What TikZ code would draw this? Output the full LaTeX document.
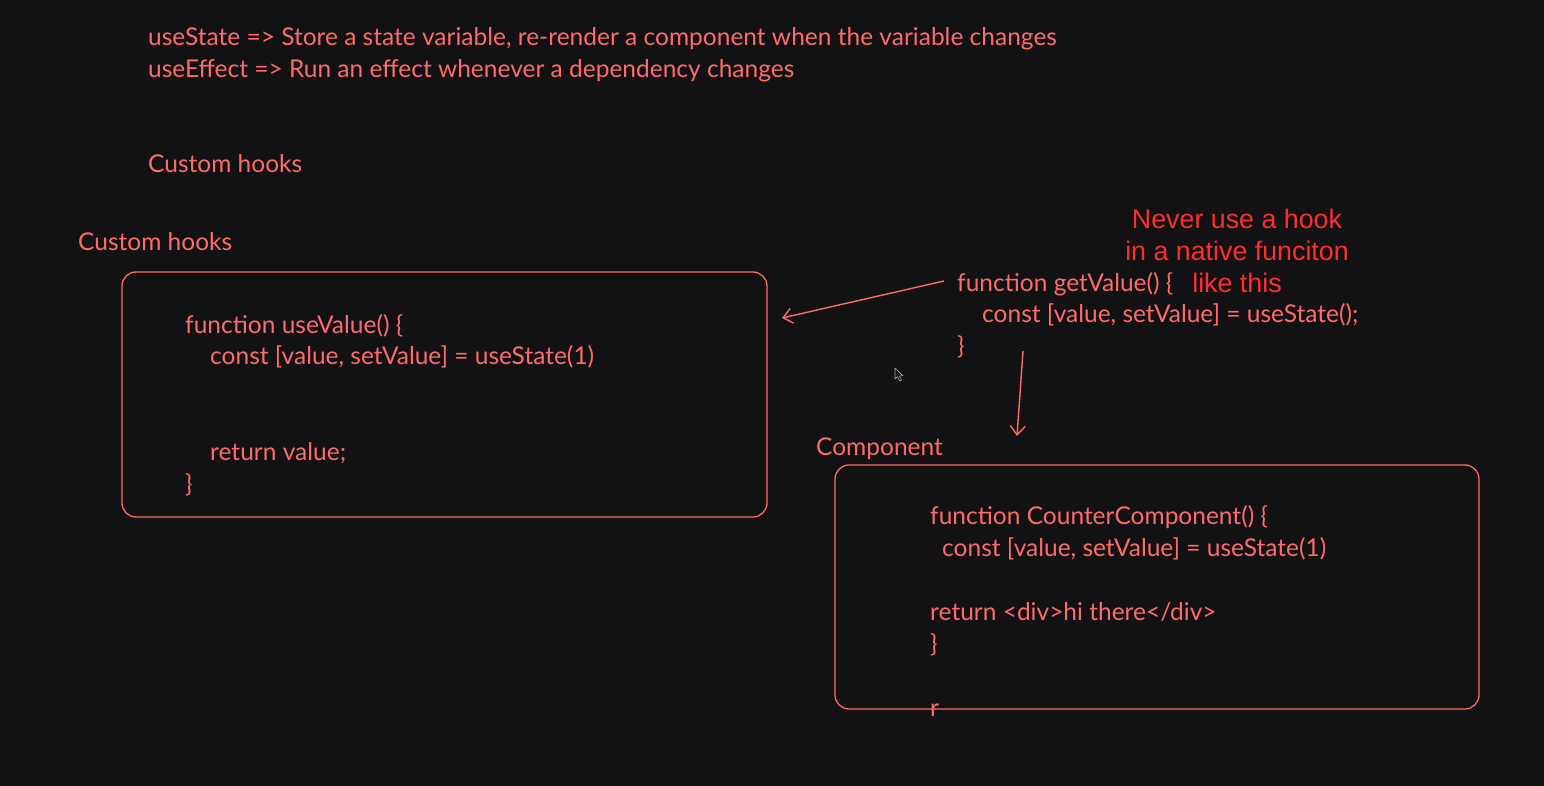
\documentclass[tikz,border=0pt]{standalone}
\usepackage{fontspec}
\setmainfont{Lato}
\newfontfamily\warnfont{Liberation Sans}
\usetikzlibrary{arrows.meta}
\definecolor{bgdark}{HTML}{121214}
\definecolor{hookpink}{HTML}{FF6B6B}
\definecolor{warnred}{HTML}{FF2E2E}
\definecolor{cursorgray}{HTML}{B0B0B0}

\begin{document}
\begin{tikzpicture}[x=1pt,y=-1pt]
\tikzstyle{every node}+=[inner sep=0pt]
\tikzstyle{code}=[anchor=mid west, text=hookpink, font=\fontsize{24.5}{32}\selectfont]
\tikzstyle{frame}=[draw=hookpink, line width=1.3pt, rounded corners=14pt]
\tikzstyle{sketch}=[draw=hookpink, line width=1.4pt, -{Straight Barb[length=9pt,width=15pt]}]
\fill [bgdark] (0,0) rectangle (1544,786);
% notes at the top
\node [code] (statenote) at (148,43) {useState => Store a state variable, re-render a component when the variable changes};
\node [code] (effectnote) at (148,75) {useEffect => Run an effect whenever a dependency changes};
\node [code] (customtitle) at (148,170) {Custom hooks};
% custom hook box
\node [code] (hooklabel) at (78,248) {Custom hooks};
\draw [frame] (122,272) rectangle (767,517);
\node [code] (usefn) at (185,331) {function useValue() \{};
\node [code] (useconst) at (210,362) {const [value, setValue] = useState(1)};
\node [code] (usereturn) at (210,458) {return value;};
\node [code] (useclose) at (185,490) {\}};
% native function
\node [code] (getfn) at (957,289) {function getValue() \{};
\node [code] (getconst) at (982,320) {const [value, setValue] = useState();};
\node [code] (getclose) at (957,352) {\}};
\node [text=warnred, align=center, font=\warnfont\fontsize{26.8}{32}\selectfont] (warning) at (1237,251) {Never use a hook\\in a native funciton\\like this};
\coordinate (hookhead) at (782,318);
\coordinate (warnstart) at (944,281);
\draw [sketch] (warnstart) -- (hookhead);
\coordinate (getbelow) at (1023,351);
\coordinate (comphead) at (1017,436);
\draw [sketch] (getbelow) -- (comphead);
% component box
\node [code] (complabel) at (816,453) {Component};
\draw [frame] (835,465) rectangle (1479,709);
\node [code] (compfn) at (930,522) {function CounterComponent() \{};
\node [code] (compconst) at (942,554) {const [value, setValue] = useState(1)};
\node [code] (compreturn) at (930,618) {return <div>hi there</div>};
\node [code] (compclose) at (930,650) {\}};
\node [code] (compr) at (930,714) {r};
% mouse pointer
\draw [cursorgray, fill=bgdark, line width=0.6pt, line join=round] (895,368) -- (895,379) -- (897.6,376.6) -- (899.6,381) -- (901.4,380.2) -- (899.4,375.8) -- (903,375.8) -- cycle;
\end{tikzpicture}
\end{document}
